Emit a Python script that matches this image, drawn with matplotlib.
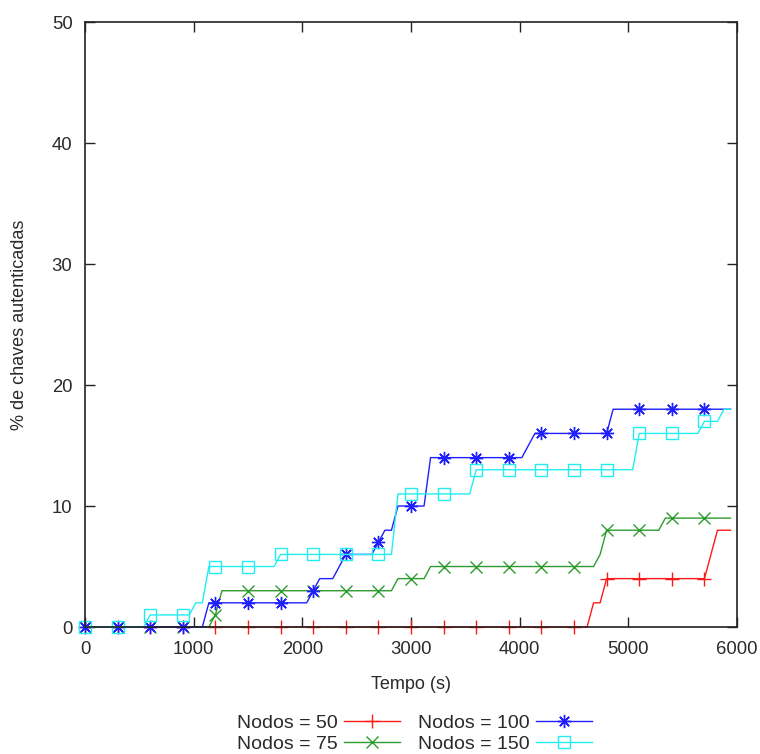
import numpy as np
import matplotlib
matplotlib.use("Agg")
import matplotlib.pyplot as plt

# amostras a cada 60 s (0 .. 5940), marcadores a cada 300 s
tempo = np.arange(0, 6000, 60)

nodos_50 = [0] * 78 + [2, 2, 4] + [4] * 15 + [6, 8, 8, 8]

nodos_75 = ([0] * 20 + [1] + [3] * 27 + [4] * 5 + [5] * 26
            + [6] + [8] * 9 + [9] * 11)

nodos_100 = ([0] * 19 + [2] * 16 + [3, 4, 4, 4, 5] + [6] * 5 + [7, 8, 8]
             + [10] * 5 + [14] * 15 + [15] + [16] * 12 + [18] * 19)

nodos_150 = ([0] * 10 + [1] * 7 + [2, 2] + [5] * 11 + [6] * 18 + [11] * 12
             + [13] * 25 + [16] * 10 + [17, 17, 17, 18, 18])

series = [
    ("Nodos = 50", nodos_50, "#ff1a1a", "+", 9.5),
    ("Nodos = 75", nodos_75, "#2e9b2e", "x", 9),
    ("Nodos = 100", nodos_100, "#1f1fff", (8, 2, 0), 9.5),
    ("Nodos = 150", nodos_150, "#22eef2", "s", 8),
]

plt.rcParams['font.family'] = ['Liberation Sans', 'DejaVu Sans']
plt.rcParams['font.size'] = 13
txt = "#2a2a2a"

fig = plt.figure(figsize=(7.6, 7.54), dpi=100)
ax = fig.add_axes([0.1118, 0.1684, 0.858, 0.8024])

for label, vals, cor, mk, ms in series:
    mfc = "none" if mk == "s" else cor
    ax.plot(tempo, vals, color=cor, lw=1.0, marker=mk, markevery=5,
            markersize=ms, markerfacecolor=mfc, markeredgecolor=cor,
            markeredgewidth=1.0, label=label, clip_on=False)

ax.set_xlim(0, 6000)
ax.set_ylim(0, 50)
ax.set_xticks([0, 1000, 2000, 3000, 4000, 5000, 6000])
ax.set_yticks([0, 10, 20, 30, 40, 50])
ax.tick_params(direction="in", length=7, width=1, top=True, right=True,
               colors="#222222", labelcolor=txt, labelsize=13.3)
ax.tick_params(axis="x", pad=10)
ax.tick_params(axis="y", pad=9)
for s in ax.spines.values():
    s.set_linewidth(1.2)
    s.set_color("#222222")

ax.set_xlabel("Tempo (s)", labelpad=13, color=txt)
ax.set_ylabel("% de chaves autenticadas", labelpad=17, color=txt)

fig.legend(loc="center", bbox_to_anchor=(0.545, 0.027), ncol=2,
           frameon=False, markerfirst=False, handlelength=2.85,
           handletextpad=0.36, columnspacing=0.93, labelspacing=0.19,
           borderpad=0, numpoints=1, fontsize=14, labelcolor=txt)

fig.savefig("out.png", dpi=100)
